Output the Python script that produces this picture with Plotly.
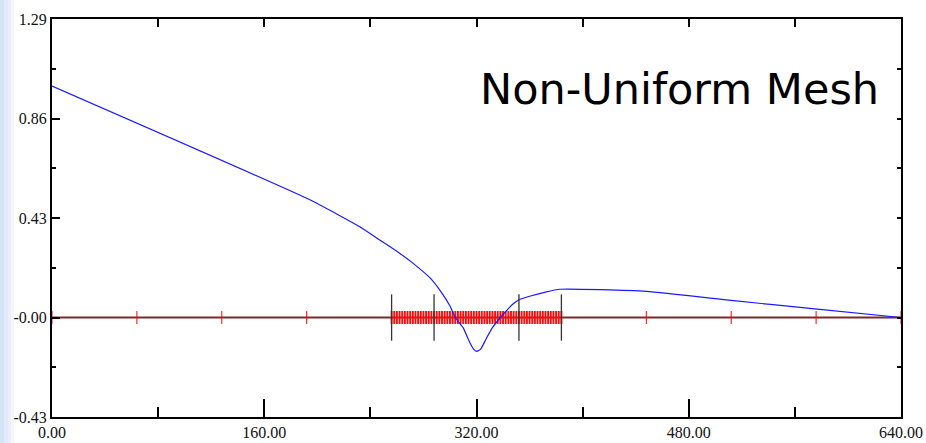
import plotly.graph_objects as go

# ---- data -------------------------------------------------------------
curve_x = [0, 192, 217, 232, 247, 262, 272, 285, 293, 300, 304, 310, 315,
           318, 320, 323, 327, 332, 338, 340, 347, 352, 360, 372, 383,
           448, 512, 575, 640]
curve_y = [1.0, 0.515, 0.44, 0.392, 0.335, 0.278, 0.235, 0.171, 0.113,
           0.050, 0.0, -0.045, -0.109, -0.138, -0.146, -0.138, -0.095,
           -0.044, 0.0, 0.013, 0.056, 0.077, 0.092, 0.110, 0.122,
           0.113, 0.074, 0.037, 0.0]

coarse_nodes = [0, 64, 128, 192, 448, 512, 576, 640]
fine_nodes = [256, 258, 260, 262, 264, 266, 268, 270, 272, 274, 276, 278,
              280, 282, 284, 286, 288, 290, 292, 294, 296, 298, 300, 302,
              304, 306, 308, 310, 312, 314, 316, 318, 320, 322, 324, 326,
              328, 330, 332, 334, 336, 338, 340, 342, 344, 346, 348, 350,
              352, 354, 356, 358, 360, 362, 364, 366, 368, 370, 372, 374,
              376, 378, 380, 382, 384]
region_bounds = [256, 288, 352, 384]

domain_x = [0, 640]
x_major = [0, 160, 320, 480, 640]
x_major_text = ["0.00", "160.00", "320.00", "480.00", "640.00"]
x_minor = [80, 240, 400, 560]
x_top = [80, 160, 240, 320, 400, 480, 560]

y_major = [1.29, 0.86, 0.43, 0.0, -0.43]
y_major_text = ["1.29", "0.86", "0.43", "-0.00", "-0.43"]
y_minor = [1.075, 0.645, 0.215, -0.215]
y_right = [1.075, 0.86, 0.645, 0.43, 0.215, 0.0, -0.215]

mesh_tick_half = 0.028
bound_half = 0.1


def segs(nodes, half):
    xs, ys = [], []
    for n in nodes:
        xs += [n, n, None]
        ys += [-half, half, None]
    return xs, ys


# ---- build --------------------------------------------------------------
fig = go.Figure()

fig.add_trace(go.Scatter(x=domain_x, y=[0, 0], mode="lines",
                         line=dict(color="#7a2a2a", width=2),
                         hoverinfo="skip", showlegend=False))

cx, cy = segs(coarse_nodes, mesh_tick_half)
fig.add_trace(go.Scatter(x=cx, y=cy, mode="lines",
                         line=dict(color="#ff0000", width=1),
                         hoverinfo="skip", showlegend=False))
fx, fy = segs(fine_nodes, mesh_tick_half)
fig.add_trace(go.Scatter(x=fx, y=fy, mode="lines",
                         line=dict(color="#ff0a0a", width=1.9),
                         hoverinfo="skip", showlegend=False))

bx, by = segs(region_bounds, bound_half)
fig.add_trace(go.Scatter(x=bx, y=by, mode="lines",
                         line=dict(color="#333333", width=1.3),
                         hoverinfo="skip", showlegend=False))

fig.add_trace(go.Scatter(x=curve_x, y=curve_y, mode="lines",
                         line=dict(color="#1a1aff", width=1.2,
                                   shape="spline", smoothing=0.5),
                         hoverinfo="skip", showlegend=False))

fig.add_trace(go.Scatter(x=[None], y=[None], xaxis="x2", yaxis="y2",
                         mode="lines", hoverinfo="skip", showlegend=False))

tickfont = dict(family="'Liberation Serif', 'Times New Roman', serif",
                size=16, color="#111111")

fig.update_layout(
    width=926, height=443, autosize=False,
    margin=dict(l=52, r=25, t=19, b=26, autoexpand=False),
    paper_bgcolor="white", plot_bgcolor="white",
    showlegend=False,
    xaxis=dict(range=domain_x, showgrid=False, zeroline=False,
               showline=True, linecolor="black", linewidth=2,
               automargin=False,
               tickmode="array", tickvals=x_major, ticktext=x_major_text,
               ticks="inside", ticklen=18, tickwidth=2, tickcolor="black",
               tickfont=tickfont,
               minor=dict(tickmode="array", tickvals=x_minor, ticks="inside",
                          ticklen=10, tickwidth=2, tickcolor="black",
                          showgrid=False)),
    xaxis2=dict(range=domain_x, overlaying="x", side="top",
                showgrid=False, zeroline=False, automargin=False,
                showline=True, linecolor="black", linewidth=2,
                tickmode="array", tickvals=x_top, showticklabels=False,
                ticks="inside", ticklen=8, tickwidth=2, tickcolor="black"),
    yaxis=dict(range=[-0.43, 1.29], showgrid=False, zeroline=False,
               showline=True, linecolor="black", linewidth=2,
               automargin=False,
               tickmode="array", tickvals=y_major, ticktext=y_major_text,
               ticks="inside", ticklen=8, tickwidth=2, tickcolor="black",
               tickfont=tickfont,
               minor=dict(tickmode="array", tickvals=y_minor, ticks="inside",
                          ticklen=4, tickwidth=2, tickcolor="black",
                          showgrid=False)),
    yaxis2=dict(range=[-0.43, 1.29], overlaying="y", side="right",
                showgrid=False, zeroline=False, automargin=False,
                showline=True, linecolor="black", linewidth=2,
                tickmode="array", tickvals=y_right, showticklabels=False,
                ticks="inside", ticklen=4, tickwidth=2, tickcolor="black"),
)

strip = [("#d4e4f7", 0, 4), ("#dfeafa", 4, 8), ("#eaf1fb", 8, 11), ("#f4f8fd", 11, 14)]
pw = 849.0
ph = 398.0
for col, p0, p1 in strip:
    fig.add_shape(type="rect", xref="paper", yref="paper",
                  x0=(p0 - 52) / pw, x1=(p1 - 52) / pw,
                  y0=-26 / ph, y1=(ph + 19) / ph,
                  fillcolor=col, line=dict(width=0), layer="below")

fig.add_annotation(text="Non-Uniform Mesh", xref="paper", yref="paper",
                   x=(881 - 52) / pw, y=(418 - 90) / ph,
                   xanchor="right", yanchor="middle", showarrow=False,
                   font=dict(family="DejaVu Sans", size=43, color="black"))

fig.write_html("out.html",
               config={"displayModeBar": False, "responsive": False},
               post_script="document.body.style.margin='0';"
                           "document.body.style.overflow='hidden';")
